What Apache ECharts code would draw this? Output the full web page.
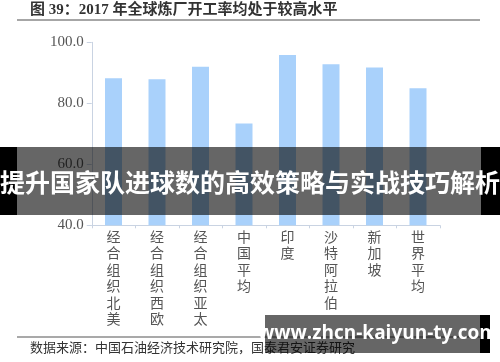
<!DOCTYPE html>
<html>
<head>
<meta charset="utf-8">
<script src="https://cdn.jsdelivr.net/npm/echarts@6/dist/echarts.min.js"></script>
<style>
html,body{margin:0;padding:0;background:#fff;}
#c{width:500px;height:362px;}
</style>
</head>
<body>
<div id="c"></div>
<script>
var categories = ["经合组织北美", "经合组织西欧", "经合组织亚太", "中国平均", "印度", "沙特阿拉伯", "新加坡", "世界平均"];
var utilization = [88.2, 87.9, 92.0, 73.4, 95.8, 92.8, 91.7, 84.9];
var yTicks = [40, 60, 80, 100];
var titleText = "图 39：2017 年全球炼厂开工率均处于较高水平";
var sourceText = "数据来源：中国石油经济技术研究院，国泰君安证券研究";
var bannerText = "提升国家队进球数的高效策略与实战技巧解析";
var siteText = "www.zhcn-kaiyun-ty.com";

var chart = echarts.init(document.getElementById('c'), null, {renderer: 'canvas'});
var serif = "'Liberation Serif', 'Noto Sans CJK SC', serif";
var cjk = "'Noto Sans CJK SC', sans-serif";
chart.setOption({
  animation: false,
  backgroundColor: '#fff',
  grid: {left: 91.75, right: 60.25, top: 42.3, bottom: 136.7, containLabel: false},
  xAxis: {
    type: 'category',
    data: categories,
    axisLine: {lineStyle: {color: '#c9d3e2', width: 1}},
    axisTick: {show: true, length: 3, lineStyle: {color: '#c9d3e2'}},
    axisLabel: {
      margin: 3,
      color: '#555',
      fontSize: 14,
      lineHeight: 16.5,
      fontFamily: cjk,
      formatter: function (v) { return v.split('').join('\n'); }
    }
  },
  yAxis: {
    type: 'value',
    min: yTicks[0],
    max: yTicks[yTicks.length - 1],
    interval: yTicks[1] - yTicks[0],
    splitLine: {show: false},
    axisLine: {show: true, lineStyle: {color: '#c9d3e2', width: 1}},
    axisTick: {show: true, length: 5, lineStyle: {color: '#c9d3e2'}},
    axisLabel: {
      margin: 8,
      color: '#555',
      fontSize: 15,
      fontFamily: serif,
      formatter: function (v) { return v.toFixed(1); }
    }
  },
  series: [{
    type: 'bar',
    data: utilization,
    barWidth: 17,
    itemStyle: {color: '#a9d1fb'}
  }],
  graphic: [
    {type: 'text', z: 100, left: 30, top: 3, style: {text: titleText, font: 'bold 15px ' + serif, fill: '#333'}},
    {type: 'rect', z: 100, shape: {x: 17, y: 19, width: 463, height: 2}, style: {fill: '#a6a6a6'}},
    {type: 'rect', z: 100, shape: {x: 17, y: 336.5, width: 463, height: 1}, style: {fill: '#555'}},
    {type: 'text', z: 100, left: 30, top: 342, style: {text: sourceText, font: '13px ' + serif, fill: '#333'}},
    {type: 'rect', z: 110, shape: {x: 0, y: 147, width: 17, height: 68}, style: {fill: '#000'}},
    {type: 'rect', z: 110, shape: {x: 17, y: 147, width: 464, height: 68}, style: {fill: 'rgba(0,0,0,0.6)'}},
    {type: 'rect', z: 110, shape: {x: 481, y: 147, width: 19, height: 68}, style: {fill: '#000'}},
    {type: 'text', z: 120, x: 250, y: 182, style: {text: bannerText, font: 'bold 25px ' + cjk, fill: '#fff', align: 'center', verticalAlign: 'middle'}},
    {type: 'rect', z: 110, shape: {x: 265, y: 315, width: 215, height: 38}, style: {fill: 'rgba(0,0,0,0.6)'}},
    {type: 'rect', z: 110, shape: {x: 480, y: 315, width: 10, height: 38}, style: {fill: '#000'}},
    {type: 'text', z: 120, x: 378, y: 334, style: {text: siteText, font: 'bold 19px ' + "'Open Sans', sans-serif", fill: '#fff', align: 'center', verticalAlign: 'middle'}}
  ]
});
</script>
</body>
</html>
